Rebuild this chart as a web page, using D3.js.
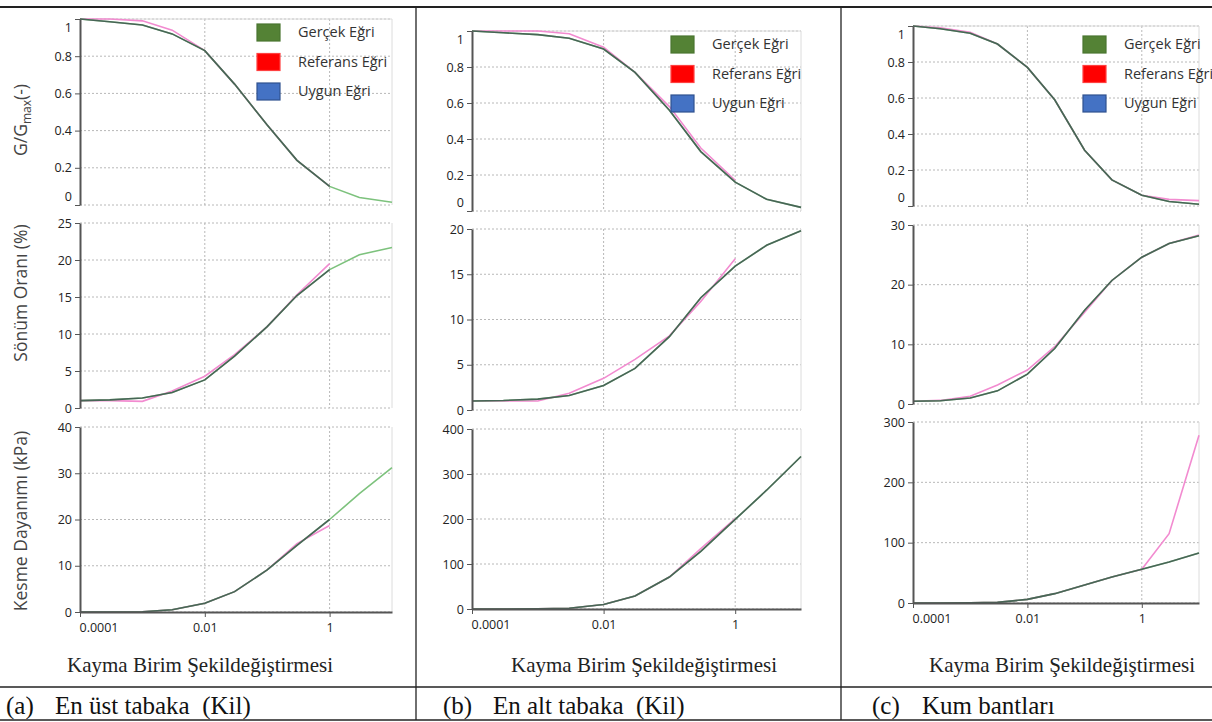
<!DOCTYPE html>
<html lang="tr">
<head>
<meta charset="utf-8">
<title>Gerçek, Referans ve Uygun Eğriler</title>
<script src="https://cdn.jsdelivr.net/npm/d3@7"></script>
<style>
  body { margin: 0; background: #fff; }
  svg { display: block; }
  .axis .tick text { font-family: 'Open Sans', sans-serif; font-size: 12.5px; fill: #222; }
  .axis path, .axis line { stroke: #555; }
  .axis path { stroke-width: 2; }
  .grid { stroke: #b8b8b8; stroke-dasharray: 2 2; }
  .frame { stroke: #dcdcdc; }
  .ytitle { font-family: 'Open Sans', sans-serif; font-size: 17.5px; fill: #444; }
  .legend text { font-family: 'Open Sans', sans-serif; font-size: 14.5px; fill: #333; }
  .xtitle { font-family: 'Liberation Serif', 'Times New Roman', serif; font-size: 21px; fill: #222; }
  .caption { font-family: 'Liberation Serif', 'Times New Roman', serif; font-size: 25px; fill: #111; white-space: pre; }
  .border { stroke: #222; }
</style>
</head>
<body>
<svg width="1212" height="722"></svg>
<script>
// shear strain values (%) shared by every curve
const strain = [0.0001, 0.0003, 0.001, 0.003, 0.01, 0.03, 0.1, 0.3, 1, 3, 10];
const xTickValues = [0.0001, 0.01, 1];
const xTickLabels = ['0.0001', '0.01', '1'];

const seriesNames = ['Gerçek Eğri', 'Referans Eğri', 'Uygun Eğri'];
const yTitles = ['G/G', 'Sönüm Oranı (%)', 'Kesme Dayanımı (kPa)'];
const xTitle = 'Kayma Birim Şekildeğiştirmesi';
const captionLetters = ['(a)', '(b)', '(c)'];
const captionTexts = ['En üst tabaka  (Kil)', 'En alt tabaka  (Kil)', 'Kum bantları'];

const gTicks = [0, 0.2, 0.4, 0.6, 0.8, 1];
const dampTicksA = [0, 5, 10, 15, 20, 25];
const dampTicksB = [0, 5, 10, 15, 20];
const dampTicksC = [0, 10, 20, 30];
const shearTicksA = [0, 10, 20, 30, 40];
const shearTicksB = [0, 100, 200, 300, 400];
const shearTicksC = [0, 100, 200, 300];

// (a) En üst tabaka
const gGercekA = [1.0, 0.985, 0.968, 0.92, 0.83, 0.65, 0.43, 0.24, 0.10, 0.04, 0.015];
const gReferansA = [1.0, 1.0, 0.99, 0.94, 0.83, 0.65, 0.43, 0.24, 0.10];
const gUygunA = [1.0, 0.985, 0.968, 0.92, 0.83, 0.65, 0.43, 0.24, 0.10];
const dGercekA = [1.0, 1.1, 1.35, 2.1, 3.8, 7.0, 11.0, 15.2, 18.7, 20.7, 21.7];
const dReferansA = [1.0, 1.0, 0.9, 2.3, 4.3, 7.2, 11.0, 15.3, 19.5];
const dUygunA = [1.0, 1.1, 1.35, 2.1, 3.8, 7.0, 11.0, 15.2, 18.7];
const sGercekA = [0, 0, 0.05, 0.5, 1.9, 4.4, 9.1, 14.4, 20.0, 25.6, 31.2];
const sReferansA = [0, 0, 0.05, 0.5, 1.9, 4.4, 9.1, 14.8, 18.7];
const sUygunA = [0, 0, 0.05, 0.5, 1.9, 4.4, 9.1, 14.4, 20.0];

// (b) En alt tabaka
const gGercekB = [1.0, 0.99, 0.98, 0.96, 0.90, 0.77, 0.56, 0.33, 0.16, 0.065, 0.02];
const gReferansB = [1.0, 1.0, 1.0, 0.985, 0.91, 0.77, 0.58, 0.35, 0.17];
const gUygunB = [1.0, 0.99, 0.98, 0.96, 0.90, 0.77, 0.56, 0.33, 0.16, 0.065, 0.02];
const dGercekB = [1.0, 1.05, 1.2, 1.6, 2.7, 4.6, 8.1, 12.4, 15.9, 18.2, 19.8];
const dReferansB = [1.0, 1.0, 1.0, 1.85, 3.5, 5.6, 8.2, 12.0, 16.7];
const dUygunB = [1.0, 1.05, 1.2, 1.6, 2.7, 4.6, 8.1, 12.4, 15.9, 18.2, 19.8];
const sGercekB = [0, 0, 0.3, 1.5, 10, 29, 71, 128, 199, 264, 339];
const sReferansB = [0, 0, 0.3, 1.5, 10, 29, 71, 134, 201];
const sUygunB = [0, 0, 0.3, 1.5, 10, 29, 71, 128, 199, 264, 339];

// (c) Kum bantları
const gGercekC = [1.0, 0.985, 0.96, 0.90, 0.77, 0.59, 0.31, 0.145, 0.06, 0.025, 0.01];
const gReferansC = [1.0, 0.99, 0.965, 0.90, 0.77, 0.59, 0.31, 0.145, 0.06, 0.037, 0.03];
const gUygunC = [1.0, 0.985, 0.96, 0.90, 0.77, 0.59, 0.31, 0.145, 0.06, 0.025, 0.01];
const dGercekC = [0.45, 0.55, 1.0, 2.2, 5.0, 9.3, 15.7, 20.7, 24.6, 26.9, 28.2];
const dReferansC = [0.45, 0.6, 1.3, 3.2, 5.7, 9.6, 15.4, 20.7, 24.6, 26.9, 28.3];
const dUygunC = [0.45, 0.55, 1.0, 2.2, 5.0, 9.3, 15.7, 20.7, 24.6, 26.9, 28.2];
const sGercekC = [0, 0, 0.2, 1, 6, 15.5, 30, 43, 56, 68, 83];
const sReferansC = [0, 0, 0.2, 1, 6, 15.5, 30, 43, 56, 115, 278];
const sUygunC = [0, 0, 0.2, 1, 6, 15.5, 30, 43, 56, 68, 83];

const lineColors = ['#7dc27d', '#f28bd0', '#35454a'];
const lineOpacity = [1, 1, 0.75];
const drawOrder = [1, 0, 2]; // referans below, uygun on top
const boxColors = ['#548235', '#ff0000', '#4472c4'];
const boxStroke = ['#4a7530', '#ff4040', '#2f528f'];

const svg = d3.select('svg');

// layout of the three panels
const panels = [
  { x0: 80, x1: 392, rows: [[19, 205], [223, 408], [427, 612]],
    ticks: [gTicks, dampTicksA, shearTicksA],
    data: [[gGercekA, gReferansA, gUygunA], [dGercekA, dReferansA, dUygunA], [sGercekA, sReferansA, sUygunA]],
    legX: 257, legY: 24, xTitleX: 200, capL: 6, capT: 55, titles: true },
  { x0: 472, x1: 801, rows: [[31, 211], [229, 410], [429, 609]],
    ticks: [gTicks, dampTicksB, shearTicksB],
    data: [[gGercekB, gReferansB, gUygunB], [dGercekB, dReferansB, dUygunB], [sGercekB, sReferansB, sUygunB]],
    legX: 671, legY: 36, xTitleX: 644, capL: 443, capT: 493, titles: false },
  { x0: 913, x1: 1199, rows: [[26, 206], [225, 404], [422, 603]],
    ticks: [gTicks, dampTicksC, shearTicksC],
    data: [[gGercekC, gReferansC, gUygunC], [dGercekC, dReferansC, dUygunC], [sGercekC, sReferansC, sUygunC]],
    legX: 1083, legY: 36, xTitleX: 1062, capL: 872, capT: 922, titles: false }
];

const titleY = [120, 293, 521];

panels.forEach((p, pi) => {
  const g = svg.append('g');
  const x = d3.scaleLog().domain([0.0001, 10]).range([p.x0, p.x1]);

  p.rows.forEach((r, ri) => {
    const ticks = p.ticks[ri];
    const y = d3.scaleLinear().domain([0, d3.max(ticks)]).range([r[1], r[0]]);

    // horizontal dotted grid
    g.selectAll(null).data(ticks).enter().append('line')
      .attr('class', 'grid')
      .attr('x1', p.x0).attr('x2', p.x1)
      .attr('y1', d => y(d)).attr('y2', d => y(d));
    // vertical dotted grid at the decade labels
    g.selectAll(null).data(xTickValues.slice(1)).enter().append('line')
      .attr('class', 'grid')
      .attr('x1', d => x(d)).attr('x2', d => x(d))
      .attr('y1', r[0]).attr('y2', r[1]);
    // right frame
    g.append('line').attr('class', 'frame')
      .attr('x1', p.x1).attr('x2', p.x1).attr('y1', r[0]).attr('y2', r[1]);
    if (ri === 0) {
      g.append('line').attr('class', 'frame')
        .attr('x1', p.x0).attr('x2', p.x1).attr('y1', r[0]).attr('y2', r[0]);
    }

    // curves
    drawOrder.forEach(si => {
      const pts = d3.zip(strain, p.data[ri][si]);
      g.append('path')
        .datum(pts)
        .attr('fill', 'none')
        .attr('stroke', lineColors[si])
        .attr('stroke-opacity', lineOpacity[si])
        .attr('stroke-width', 1.6)
        .attr('d', d3.line().x(d => x(d[0])).y(d => y(d[1])));
    });

    // y axis
    const ya = g.append('g')
      .attr('class', 'axis')
      .attr('transform', `translate(${p.x0},0)`)
      .call(d3.axisLeft(y).tickValues(ticks).tickSize(5).tickSizeOuter(0).tickPadding(3).tickFormat(d => String(d)));
    if (ri === 0) {
      ya.selectAll('.tick text')
        .attr('dy', (d, i) => i === 0 ? '-0.35em' : (i === ticks.length - 1 ? '1.0em' : '0.32em'));
    }

    // x axis on the bottom row
    if (ri === 2) {
      const xa = g.append('g')
        .attr('class', 'axis')
        .attr('transform', `translate(0,${r[1]})`)
        .call(d3.axisBottom(x).tickValues(xTickValues).tickSize(5).tickSizeOuter(0).tickPadding(6)
          .tickFormat((d, i) => xTickLabels[i]));
      xa.selectAll('.tick text').attr('text-anchor', (d, i) => i === 0 ? 'start' : 'middle')
        .attr('dx', (d, i) => i === 0 ? -1 : 0);
    }

    // y titles, only on panel (a)
    if (p.titles) {
      const t = svg.append('text')
        .attr('class', 'ytitle')
        .attr('text-anchor', 'middle')
        .attr('transform', `translate(27,${titleY[ri]}) rotate(-90)`);
      if (ri === 0) {
        t.append('tspan').text(yTitles[0]);
        t.append('tspan').attr('font-size', 12).attr('dy', 4).text('max');
        t.append('tspan').attr('dy', -4).text('(-)');
      } else {
        t.text(yTitles[ri]);
      }
    }
  });

  // legend
  const leg = g.append('g').attr('class', 'legend');
  seriesNames.forEach((name, i) => {
    const yy = p.legY + i * 29.5;
    leg.append('rect')
      .attr('x', p.legX).attr('y', yy)
      .attr('width', 23).attr('height', 17)
      .attr('fill', boxColors[i])
      .attr('stroke', boxStroke[i]).attr('stroke-width', 1.2);
    leg.append('text')
      .attr('x', p.legX + 41).attr('y', yy + 13)
      .text(name);
  });

  // x title
  svg.append('text')
    .attr('class', 'xtitle')
    .attr('x', p.xTitleX).attr('y', 672)
    .attr('text-anchor', 'middle')
    .text(xTitle);

  // captions
  svg.append('text').attr('class', 'caption').attr('x', p.capL).attr('y', 714).text(captionLetters[pi]);
  svg.append('text').attr('class', 'caption').attr('x', p.capT).attr('y', 714).text(captionTexts[pi]);
});

// table borders
const borders = [
  [0, 7, 1212, 7], [0, 687, 1212, 687], [0, 720, 1212, 720],
  [416, 7, 416, 720], [841, 7, 841, 720]
];
svg.selectAll(null).data(borders).enter().append('line')
  .attr('class', 'border')
  .attr('stroke-width', (d, i) => i === 0 ? 2 : 1.3)
  .attr('x1', d => d[0]).attr('y1', d => d[1])
  .attr('x2', d => d[2]).attr('y2', d => d[3]);
</script>
</body>
</html>
